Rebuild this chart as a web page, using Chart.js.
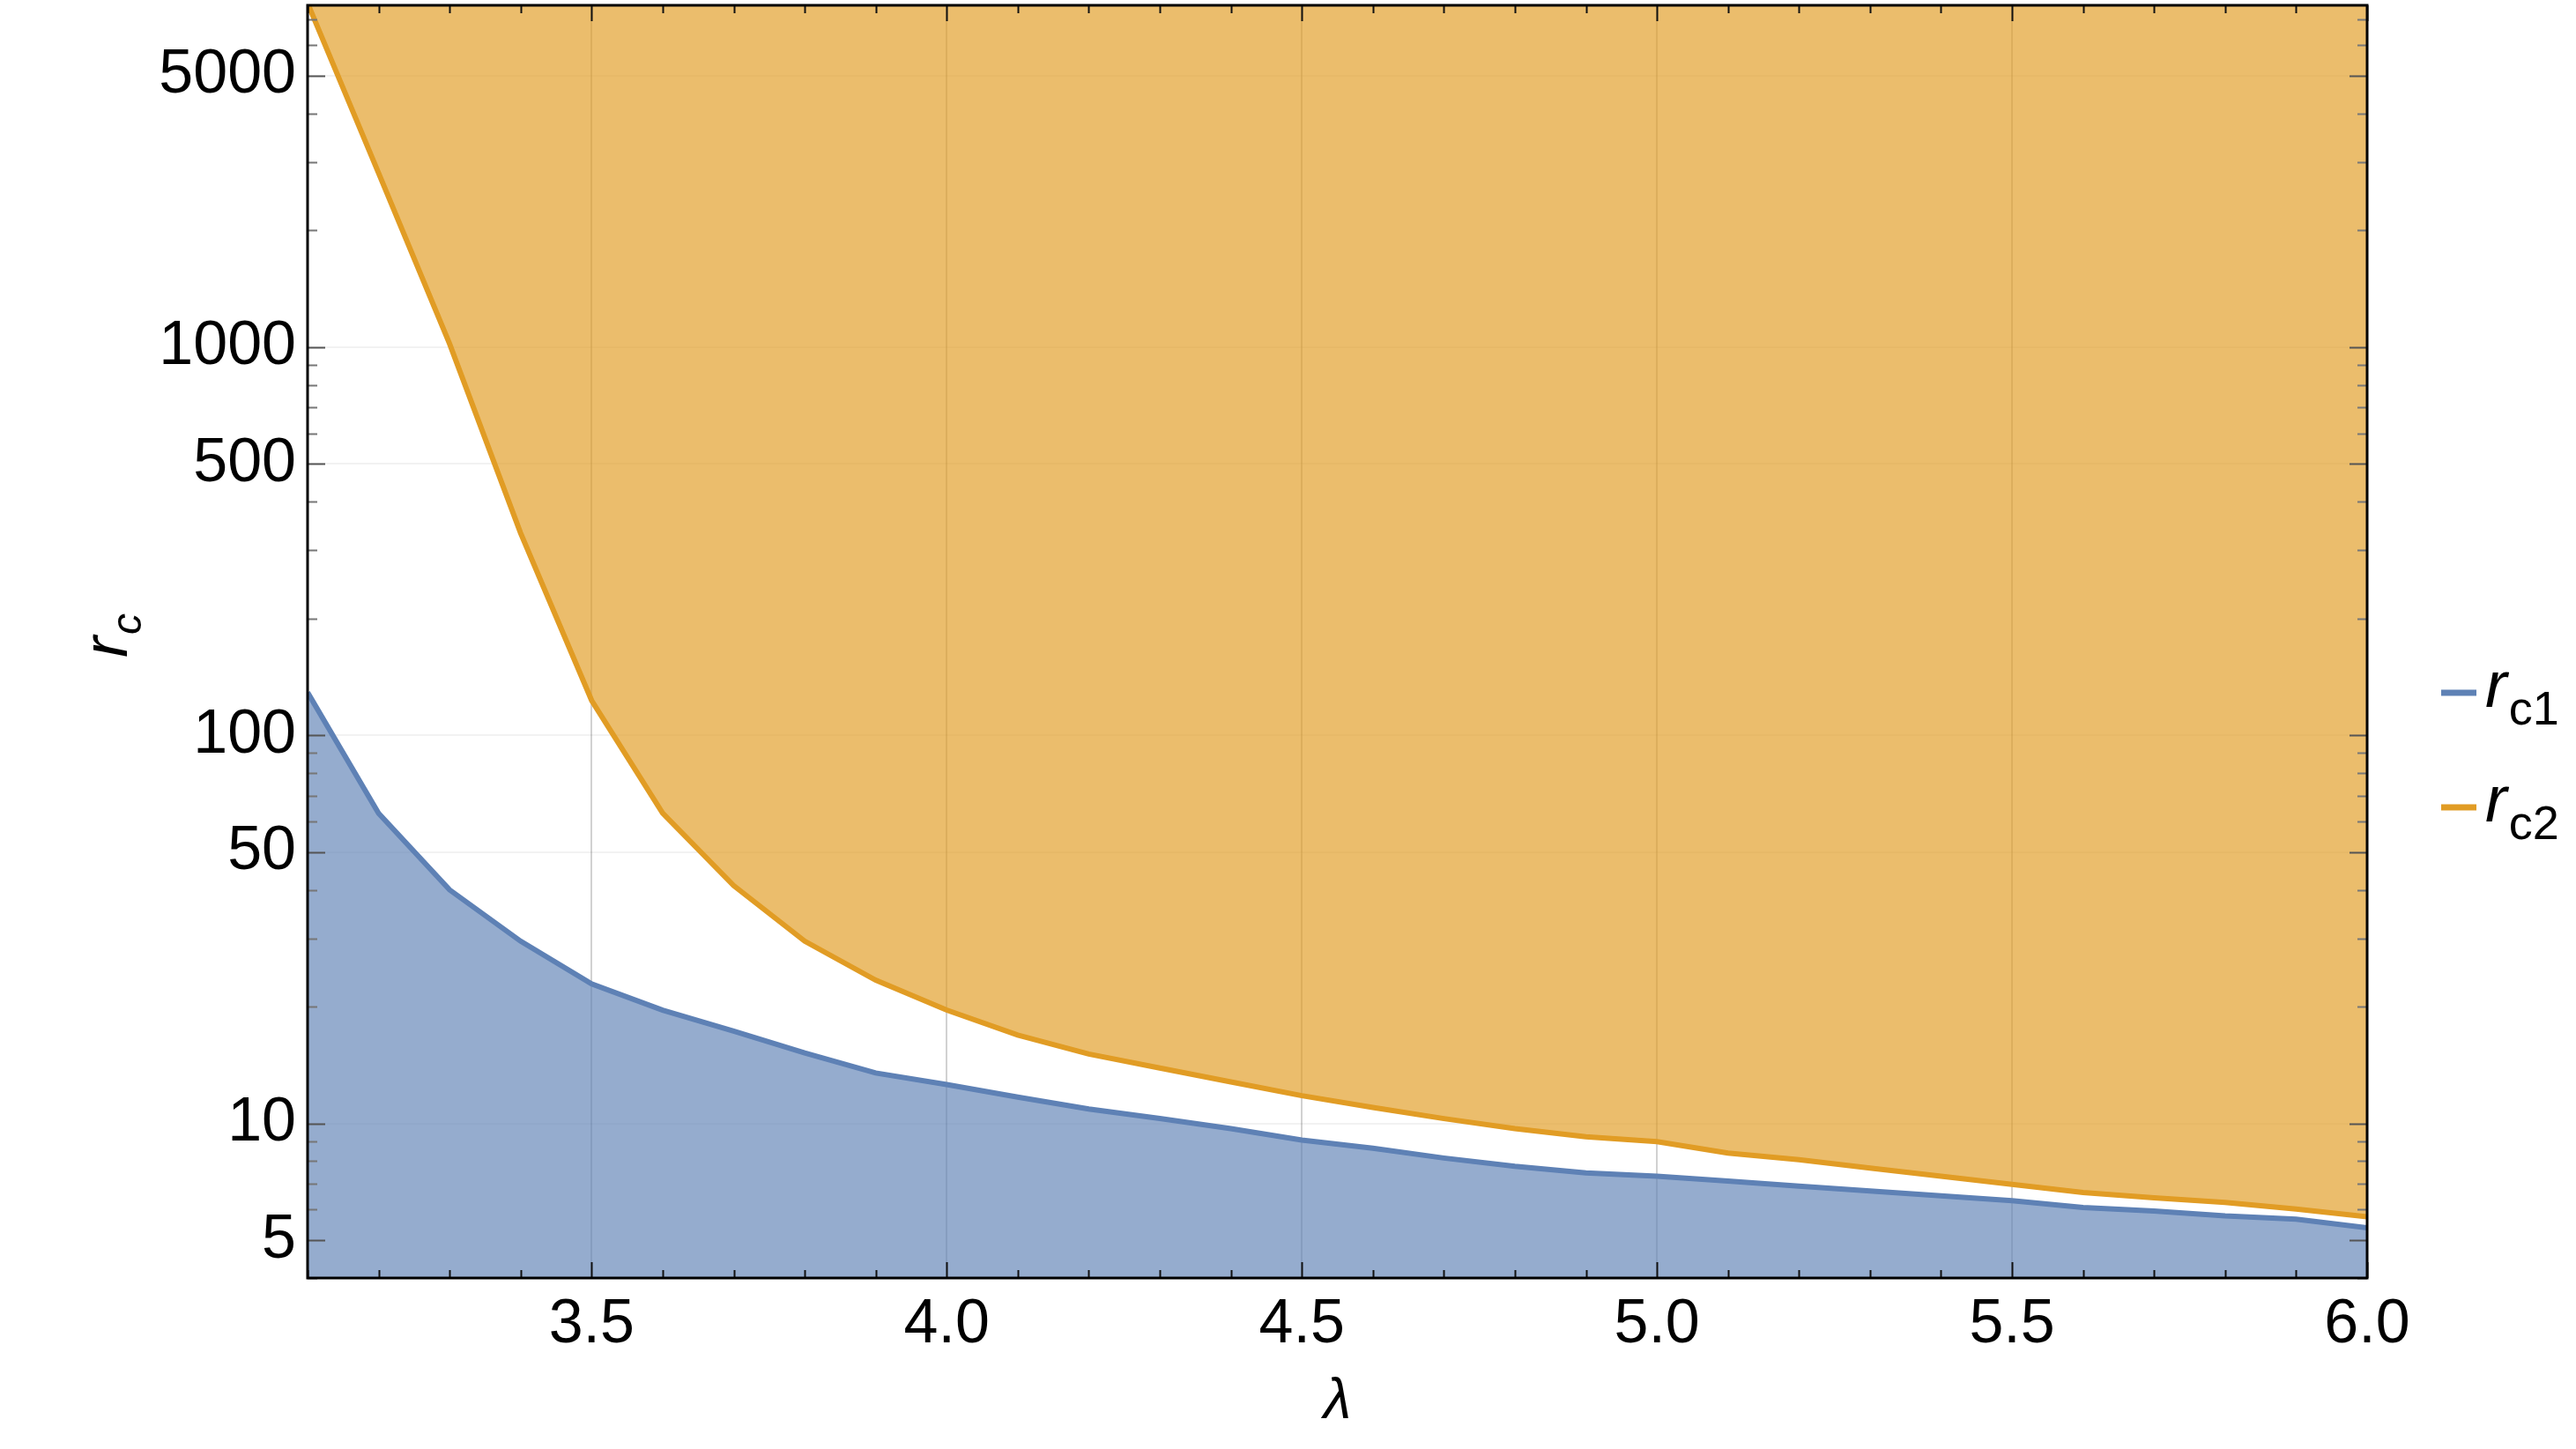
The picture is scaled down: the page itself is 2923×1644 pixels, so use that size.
<!DOCTYPE html>
<html lang="en">

<head>
    <meta charset="UTF-8">
    <title>r_c vs lambda</title>
    <script src="https://cdn.jsdelivr.net/npm/chart.js"></script>
    <style>
        body {
            margin: 0;
            background: white;
        }

        #wrap {
            width: 2923px;
            height: 1644px;
            position: relative;
        }
    </style>
</head>

<body>
    <div id="wrap"><canvas id="rcChart"></canvas></div>

    <script>
        // lambda grid and the two critical radii
        const lambda = [3.1, 3.2, 3.3, 3.4, 3.5, 3.6, 3.7, 3.8, 3.9, 4.0,
            4.1, 4.2, 4.3, 4.4, 4.5, 4.6, 4.7, 4.8, 4.9, 5.0,
            5.1, 5.2, 5.3, 5.4, 5.5, 5.6, 5.7, 5.8, 5.9, 6.0];
        const rc1 = [129, 63, 40, 29.5, 22.9, 19.6, 17.3, 15.2, 13.5, 12.6,
            11.7, 10.9, 10.3, 9.7, 9.07, 8.64, 8.15, 7.76, 7.46, 7.32,
            7.11, 6.90, 6.70, 6.51, 6.33, 6.08, 5.95, 5.78, 5.67, 5.39];
        const rc2 = [7700, 2810, 1020, 332, 123, 63, 41, 29.5, 23.4, 19.6,
            16.9, 15.1, 13.9, 12.8, 11.8, 11.0, 10.3, 9.7, 9.25, 8.98,
            8.39, 8.07, 7.68, 7.32, 6.97, 6.64, 6.44, 6.26, 6.02, 5.75];

        const xLabels = [3.5, 4.0, 4.5, 5.0, 5.5, 6.0];
        const yLabels = [5, 10, 50, 100, 500, 1000, 5000];

        const blue = '#5e81b5';
        const orange = '#e19c24';
        const fontFam = "'Liberation Sans', Arial, sans-serif";

        // minor tick positions
        const xTicks = lambda.slice();
        const yTicks = [];
        [1, 10, 100, 1000].forEach(d => {
            for (let m = 1; m <= 9; m++) {
                const v = m * d;
                if (v >= 4 && v <= 7600) yTicks.push(v);
            }
        });

        const isXMajor = v => xLabels.some(t => Math.abs(t - v) < 1e-6);
        const isYMajor = v => yLabels.includes(v);

        // inward tick marks on all four sides + frame
        const frameTicks = {
            id: 'frameTicks',
            afterDatasetsDraw(chart) {
                const ctx = chart.ctx;
                const a = chart.chartArea;
                const xs = chart.scales.x, ys = chart.scales.y;
                ctx.save();
                ctx.lineWidth = 2;
                xTicks.forEach(v => {
                    const px = Math.round(xs.getPixelForValue(v)) + 0.5;
                    const len = isXMajor(v) ? 18 : 9;
                    ctx.strokeStyle = '#111';
                    ctx.beginPath();
                    ctx.moveTo(px, a.bottom);
                    ctx.lineTo(px, a.bottom - len);
                    ctx.moveTo(px, a.top);
                    ctx.lineTo(px, a.top + len);
                    ctx.stroke();
                });
                yTicks.forEach(v => {
                    const py = Math.round(ys.getPixelForValue(v)) + 0.5;
                    const len = isYMajor(v) ? 20 : 11;
                    ctx.strokeStyle = isYMajor(v) ? '#555' : '#777';
                    ctx.beginPath();
                    ctx.moveTo(a.left, py);
                    ctx.lineTo(a.left + len, py);
                    ctx.moveTo(a.right, py);
                    ctx.lineTo(a.right - len, py);
                    ctx.stroke();
                });
                ctx.strokeStyle = '#000';
                ctx.lineWidth = 3;
                ctx.strokeRect(a.left, a.top, a.right - a.left, a.bottom - a.top);
                ctx.restore();
            }
        };

        // y title r_c and legend with subscripts
        const extras = {
            id: 'extras',
            afterDraw(chart) {
                const ctx = chart.ctx;
                const a = chart.chartArea;
                ctx.save();
                ctx.fillStyle = '#000';
                ctx.textBaseline = 'alphabetic';

                // y axis title
                ctx.translate(144, 722);
                ctx.rotate(-Math.PI / 2);
                ctx.font = 'italic 72px ' + fontFam;
                ctx.textAlign = 'left';
                const rw = ctx.measureText('r').width;
                ctx.fillText('r', -(rw + 24) / 2, 0);
                ctx.font = 'italic 48px ' + fontFam;
                ctx.fillText('c', -(rw + 24) / 2 + rw + 2, 16);
                ctx.restore();

                // legend
                ctx.save();
                const items = [
                    { color: blue, sub: 'c1', y: 786 },
                    { color: orange, sub: 'c2', y: 916 }
                ];
                items.forEach(it => {
                    ctx.strokeStyle = it.color;
                    ctx.lineWidth = 7;
                    ctx.beginPath();
                    ctx.moveTo(a.right + 84, it.y);
                    ctx.lineTo(a.right + 124, it.y);
                    ctx.stroke();
                    ctx.fillStyle = '#000';
                    ctx.textBaseline = 'alphabetic';
                    ctx.font = 'italic 74px ' + fontFam;
                    const x0 = a.right + 134;
                    ctx.fillText('r', x0, it.y + 16);
                    const w = ctx.measureText('r').width;
                    ctx.font = '54px ' + fontFam;
                    ctx.fillText(it.sub, x0 + w + 2, it.y + 36);
                });
                ctx.restore();
            }
        };

        const ctx = document.getElementById('rcChart').getContext('2d');
        const rcChart = new Chart(ctx, {
            type: 'line',
            data: {
                datasets: [{
                    label: 'rc1',
                    data: lambda.map((x, i) => ({ x: x, y: rc1[i] })),
                    borderColor: blue,
                    backgroundColor: 'rgba(94,129,181,0.66)',
                    borderWidth: 6,
                    pointRadius: 0,
                    tension: 0,
                    fill: 'start'
                }, {
                    label: 'rc2',
                    data: lambda.map((x, i) => ({ x: x, y: rc2[i] })),
                    borderColor: orange,
                    backgroundColor: 'rgba(225,156,36,0.67)',
                    borderWidth: 6,
                    pointRadius: 0,
                    tension: 0,
                    fill: 'end'
                }]
            },
            options: {
                responsive: true,
                maintainAspectRatio: false,
                devicePixelRatio: 1,
                animation: false,
                layout: {
                    padding: { top: 6, right: 237, left: 0, bottom: 0 }
                },
                plugins: {
                    legend: { display: false },
                    tooltip: { enabled: false }
                },
                scales: {
                    x: {
                        type: 'linear',
                        min: 3.1,
                        max: 6.0,
                        afterBuildTicks: s => {
                            s.ticks = xTicks.map(v => ({ value: v }));
                        },
                        afterFit: s => {
                            s.height = 194;
                            s.paddingLeft = 0;
                            s.paddingRight = 0;
                        },
                        ticks: {
                            autoSkip: false,
                            maxRotation: 0,
                            padding: 12,
                            color: '#000',
                            font: { family: fontFam, size: 70 },
                            callback: v => isXMajor(v) ? v.toFixed(1) : ''
                        },
                        grid: {
                            drawTicks: false,
                            lineWidth: 2,
                            color: c => (c.tick && isXMajor(c.tick.value) && c.tick.value < 6) ? 'rgba(0,0,0,0.18)' : 'rgba(0,0,0,0)'
                        },
                        border: { display: false },
                        title: {
                            display: true,
                            text: 'λ',
                            color: '#000',
                            font: { family: fontFam, size: 64, style: 'italic' },
                            padding: { top: 0, bottom: 14 }
                        }
                    },
                    y: {
                        type: 'logarithmic',
                        min: 4,
                        max: 7600,
                        afterBuildTicks: s => {
                            s.ticks = yTicks.map(v => ({ value: v }));
                        },
                        afterFit: s => {
                            s.width = 349;
                            s.paddingTop = 0;
                            s.paddingBottom = 0;
                        },
                        ticks: {
                            autoSkip: false,
                            padding: 13,
                            color: '#000',
                            font: { family: fontFam, size: 70 },
                            callback: v => isYMajor(v) ? String(v) : ''
                        },
                        grid: {
                            drawTicks: false,
                            lineWidth: 2,
                            color: c => (c.tick && isYMajor(c.tick.value) && c.tick.value > 5) ? 'rgba(0,0,0,0.05)' : 'rgba(0,0,0,0)'
                        },
                        border: { display: false }
                    }
                }
            },
            plugins: [frameTicks, extras]
        });
    </script>

</body>

</html>
